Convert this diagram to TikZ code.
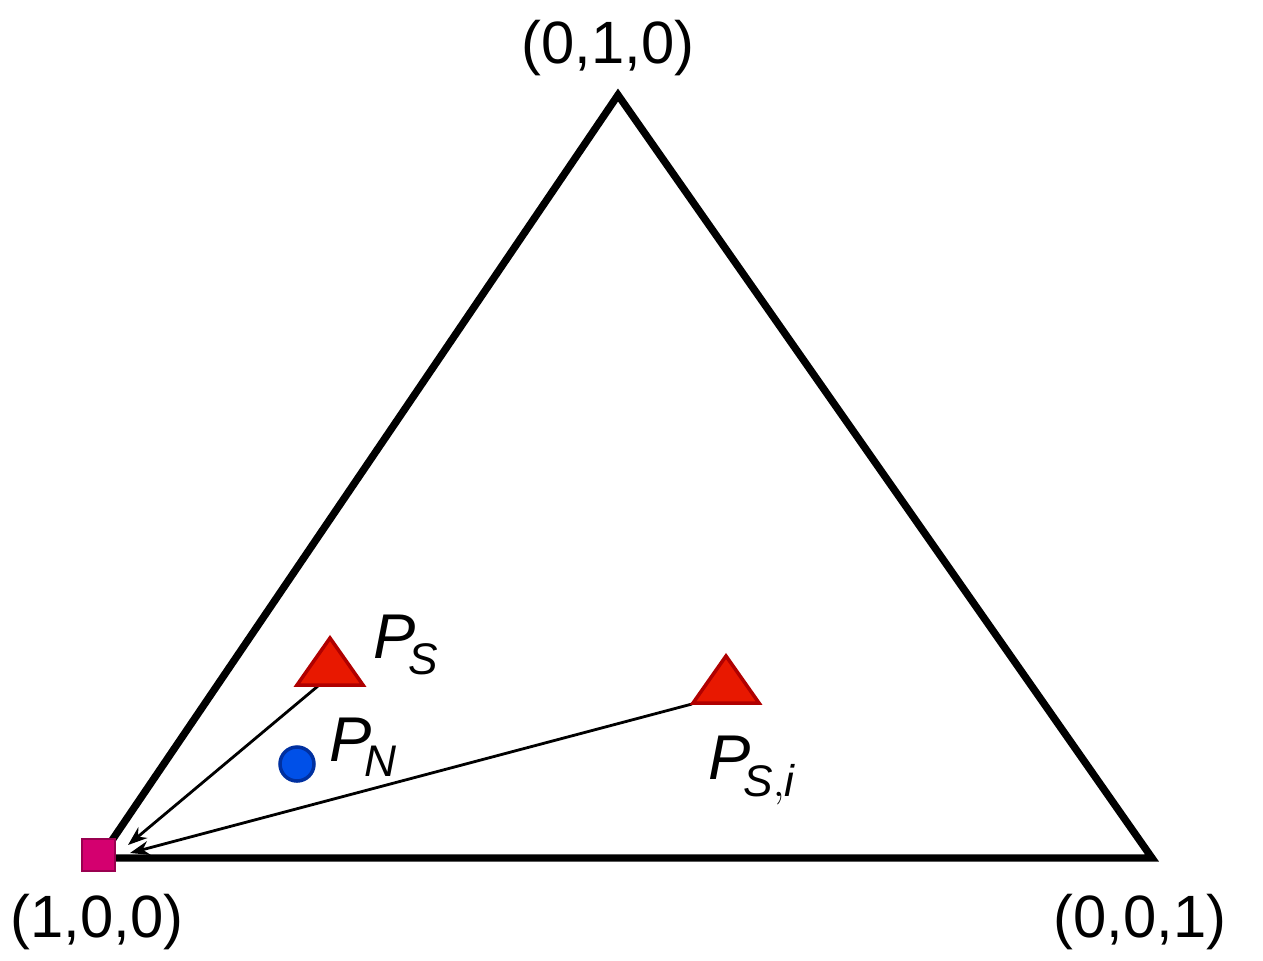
\documentclass[tikz,border=0pt]{standalone}
\usepackage{fontspec}
\setmainfont{Liberation Sans}
\usetikzlibrary{arrows.meta}
\definecolor{sqfill}{HTML}{D4006F}
\definecolor{sqedge}{HTML}{9A0050}
\definecolor{trifill}{HTML}{E81800}
\definecolor{triedge}{HTML}{B00000}
\definecolor{dotfill}{HTML}{0050E8}
\definecolor{dotedge}{HTML}{0030A0}

\begin{document}
\begin{tikzpicture}[x=0.02cm,y=-0.02cm,
	lbl/.style={font=\fontsize{34}{40}\selectfont},
	ptl/.style={font=\fontsize{36}{42}\selectfont},
	arr/.style={line width=1.6pt,-{Stealth[length=11pt,width=8pt]}}]
				\useasboundingbox (0,0) rectangle (1263,960);
				\foreach \x/\y/\z in
				{L/100/858, T/618/95, R/1152/858}{
					\coordinate(\x) at (\y,\z);
				}
				\draw[line width=4.2pt,line join=miter] (L)--(T)--(R)--cycle;
				
				% corner labels
				\node[lbl] (lt) at (608,48){(0,1,0)};
				\node[lbl] (ll) at (97,922){(1,0,0)};
				\node[lbl] (lr) at (1140,922){(0,0,1)};
				
				% arrows
				\coordinate (S) at (318,686);
				\coordinate (Si) at (692,704);
				\draw[arr] (S)--(128,845);
				\draw[arr] (Si)--(130,853);
				
				% markers
				\foreach \x/\y/\z in
				{S/330/662, Si/726/680}{
					\filldraw[fill=trifill,draw=triedge,line width=2pt] (\y-33,\z+23)--(\y,\z-24)--(\y+33,\z+23)--cycle;
				}
				\filldraw[fill=dotfill,draw=dotedge,line width=2pt] (297,764) circle (17);
				\filldraw[fill=sqfill,draw=sqedge,line width=1.5pt] (82,839) rectangle (115,871);
				
				\node[ptl] (ps) at (406,645){$\mathit{P}_{\!\mathit{S}}$};
				\node[ptl] (pn) at (363,747){$\mathit{P}_{\!\mathit{N}}$};
				\node[ptl] (psi) at (752,770){$\mathit{P}_{\!\mathit{S,i}}$};
			\end{tikzpicture}
\end{document}
